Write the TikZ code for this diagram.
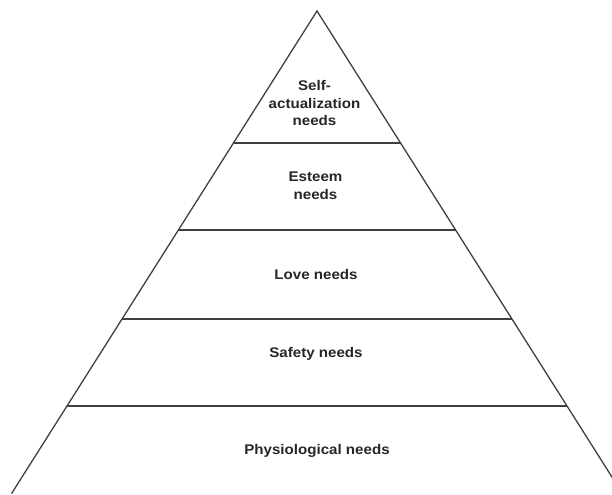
\documentclass[tikz,border=0pt]{standalone}
\usepackage{fontspec}
\newfontfamily\lblfont{Liberation Sans}[FakeStretch=1.08]
\begin{document}
\begin{tikzpicture}[x=1bp,y=-1bp,
  edge/.style={draw=black!75, line width=1.3bp},
  lbl/.style={font=\lblfont\bfseries\fontsize{14bp}{17.8bp}\selectfont, text=black!85, align=center, inner sep=0pt}]
\useasboundingbox (0,0) rectangle (612,495);
\begin{scope}
\clip (0,0) rectangle (612,495);
\coordinate (apex) at (317,11);
\coordinate (bl) at (11.6,493.5);
\coordinate (br) at (622.4,493.5);
\draw[edge] (bl) -- (apex) -- (br);
\coordinate (l1) at (233.5,143); \coordinate (r1) at (400.5,143);
\coordinate (l2) at (178.4,230); \coordinate (r2) at (455.6,230);
\coordinate (l3) at (122.1,319); \coordinate (r3) at (511.9,319);
\coordinate (l4) at (67,406);    \coordinate (r4) at (567,406);
\draw[edge] (l1) -- (r1);
\draw[edge] (l2) -- (r2);
\draw[edge] (l3) -- (r3);
\draw[edge] (l4) -- (r4);
\end{scope}
\node[lbl] (self) at (314.5,103) {Self-\\actualization\\needs};
\node[lbl] (esteem) at (315.5,186) {Esteem\\needs};
\node[lbl] (love) at (316,274.5) {Love needs};
\node[lbl] (safety) at (316,354) {Safety needs};
\node[lbl] (phys) at (317,451) {Physiological needs};
\end{tikzpicture}
\end{document}
